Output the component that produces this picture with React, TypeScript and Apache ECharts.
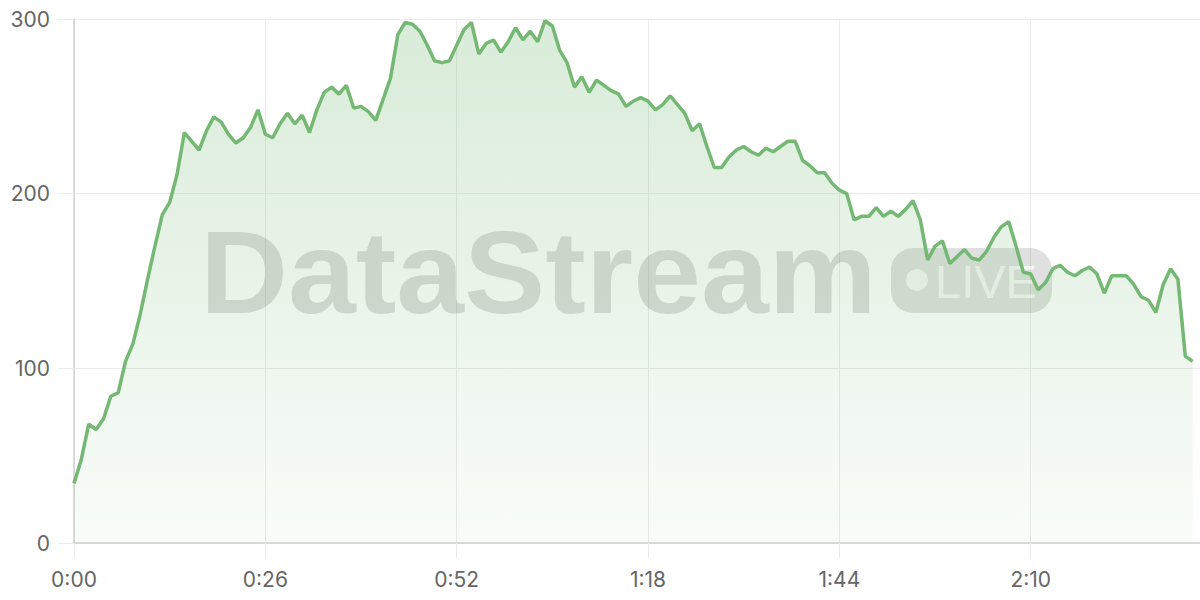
import React, { useEffect, useRef } from "react";
import * as echarts from "echarts";

// One sample per second, starting at 0:00
const values: number[] = [
  34, 48, 68, 65, 71, 84, 86, 104, 114, 131,
  151, 170, 188, 195, 211, 235, 230, 225, 236, 244,
  241, 234, 229, 232, 238, 248, 234, 232, 240, 246,
  240, 245, 235, 248, 258, 261, 257, 262, 249, 250,
  247, 242, 254, 266, 291, 298, 297, 293, 285, 276,
  275, 276, 285, 294, 298, 280, 286, 288, 281, 287,
  295, 288, 293, 287, 299, 296, 282, 275, 261, 267,
  258, 265, 262, 259, 257, 250, 253, 255, 253, 248,
  251, 256, 251, 246, 236, 240, 227, 215, 215, 221,
  225, 227, 224, 222, 226, 224, 227, 230, 230, 219,
  216, 212, 212, 206, 202, 200, 185, 187, 187, 192,
  187, 190, 187, 191, 196, 185, 162, 170, 173, 160,
  164, 168, 163, 162, 167, 175, 181, 184, 170, 155,
  154, 145, 149, 157, 159, 155, 153, 156, 158, 154,
  143, 153, 153, 153, 148, 141, 139, 132, 148, 157,
  151, 107, 104,
];

const xTickStep = 26; // seconds between x labels
const yTicks = [0, 100, 200, 300];
const watermarkText = "DataStream";
const badgeText = "LIVE";

const fmtTime = (s: number) =>
  `${Math.floor(s / 60)}:${String(Math.round(s) % 60).padStart(2, "0")}`;

export default function App() {
  const ref = useRef<HTMLDivElement>(null);

  useEffect(() => {
    if (!ref.current) return;
    const chart = echarts.init(ref.current, null, { renderer: "svg" });
    const data = values.map((v, i) => [i, v]);
    const green = "#74b874";
    const gridColor = "#ebebeb";
    const axisColor = "#d0d0d0";

    chart.setOption({
      animation: false,
      backgroundColor: "#ffffff",
      grid: { left: 74, right: 0, top: 19, bottom: 57 },
      xAxis: {
        type: "value",
        min: 0,
        max: values.length,
        interval: xTickStep,
        axisLine: { show: true, lineStyle: { color: axisColor, width: 1.5 } },
        axisTick: { show: true, length: 15, lineStyle: { color: gridColor } },
        splitLine: { show: true, lineStyle: { color: gridColor } },
        axisLabel: {
          showMaxLabel: false,
          color: "#666",
          fontFamily: "Inter",
          fontSize: 21,
          margin: 26,
          formatter: (v: number) => (v % xTickStep === 0 ? fmtTime(v) : ""),
        },
      },
      yAxis: {
        type: "value",
        min: yTicks[0],
        max: yTicks[yTicks.length - 1],
        interval: yTicks[1] - yTicks[0],
        axisLine: { show: true, lineStyle: { color: axisColor, width: 1.5 } },
        axisTick: { show: true, length: 16, lineStyle: { color: gridColor } },
        splitLine: { show: true, lineStyle: { color: gridColor } },
        axisLabel: {
          color: "#666",
          fontFamily: "Inter",
          fontSize: 21,
          margin: 24,
        },
      },
      graphic: [
        {
          type: "text",
          z: 1,
          x: 200,
          y: 273,
          scaleX: 1.05,
          style: {
            text: watermarkText,
            font: 'bold 116px "Liberation Sans"',
            fill: "rgba(40,50,40,0.17)",
            verticalAlign: "middle",
            align: "left",
          },
        },
        {
          type: "rect",
          z: 1,
          shape: { x: 891, y: 248, width: 161, height: 65, r: 22 },
          style: { fill: "rgba(40,50,40,0.15)" },
        },
        {
          type: "circle",
          z: 1,
          shape: { cx: 917, cy: 280, r: 11 },
          style: { fill: "rgba(255,255,255,0.75)" },
        },
        {
          type: "text",
          z: 1,
          x: 935,
          y: 281,
          style: {
            text: badgeText,
            font: '47px "Liberation Sans"',
            fill: "rgba(255,255,255,0.75)",
            verticalAlign: "middle",
            align: "left",
          },
        },
      ],
      series: [
        {
          type: "line",
          data,
          showSymbol: false,
          symbol: "none",
          z: 3,
          lineStyle: { color: green, width: 3.5 },
          areaStyle: {
            color: new echarts.graphic.LinearGradient(0, 0, 0, 1, [
              { offset: 0, color: "rgba(118,185,118,0.4)" },
              { offset: 1, color: "rgba(118,185,118,0.06)" },
            ]),
          },
        },
      ],
    });

    return () => chart.dispose();
  }, []);

  return (
    <div
      ref={ref}
      style={{ position: "absolute", left: 0, top: 0, width: 1200, height: 600 }}
    />
  );
}
